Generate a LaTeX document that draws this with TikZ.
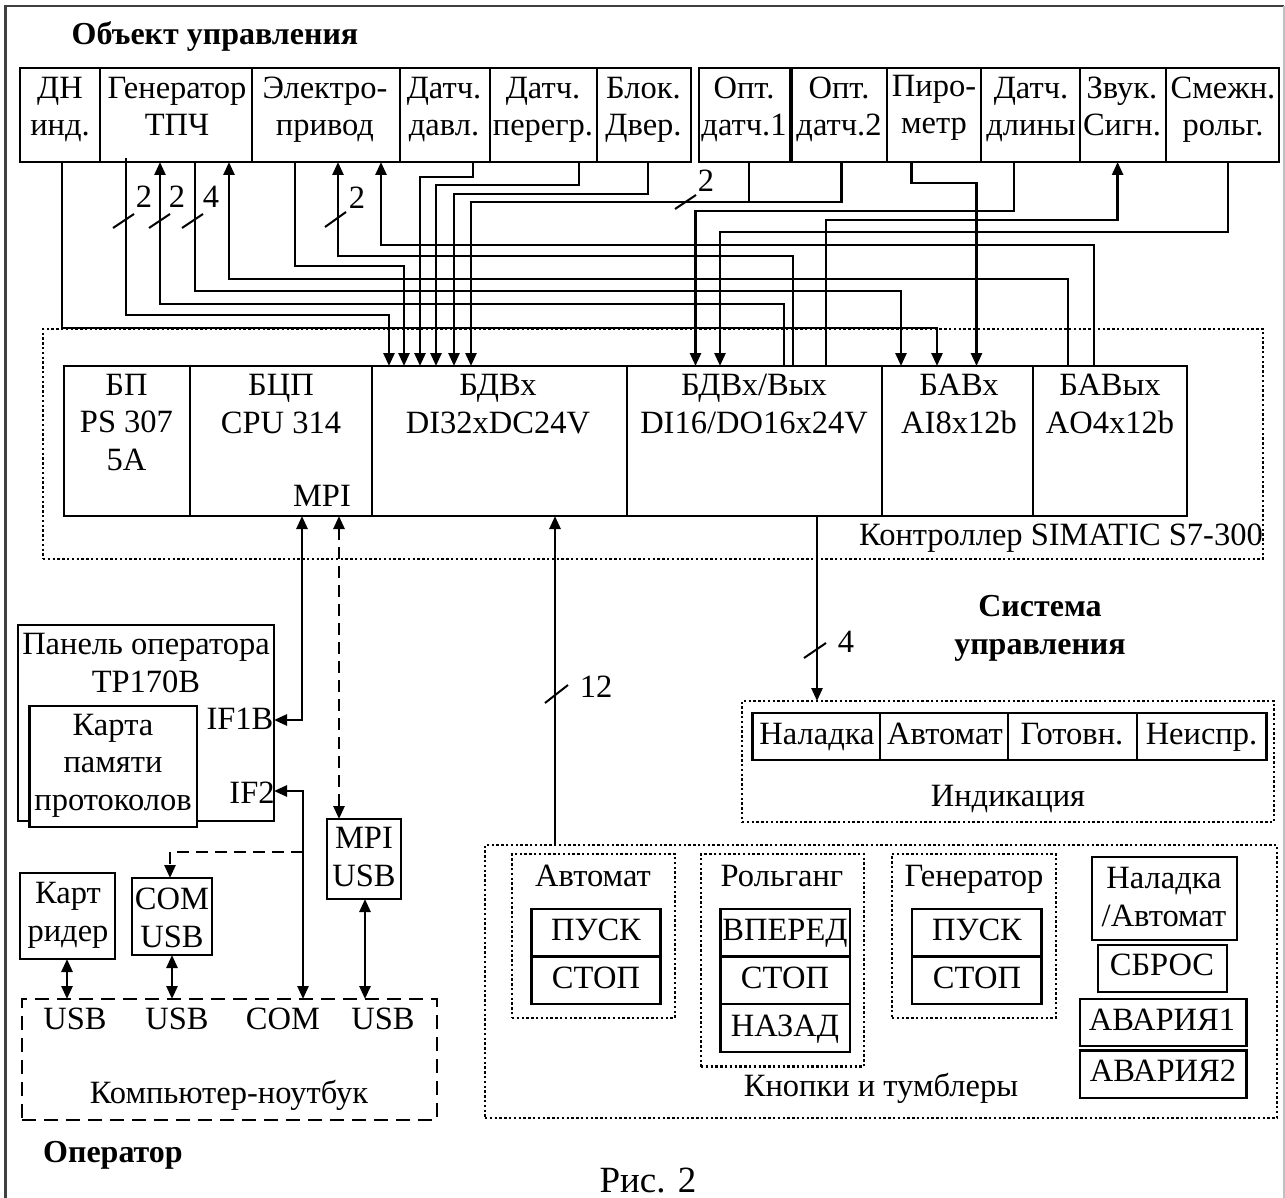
\documentclass[tikz,border=0pt]{standalone}
\usepackage{fontspec}
\setmainfont{Liberation Serif}
\usetikzlibrary{arrows.meta}
\tikzset{
  x=1pt,y=-1pt,
  box/.style={draw=black,line width=2.6pt,fill=white,inner sep=0pt,outer sep=0pt},
  dotbox/.style={draw=black,line width=2.4pt,dash pattern=on 2.4pt off 2.4pt,inner sep=0pt,outer sep=0pt},
  dashbox/.style={draw=black,line width=2.6pt,dash pattern=on 14pt off 8pt,inner sep=0pt,outer sep=0pt},
  lbl/.style={inner sep=0pt,outer sep=0pt,align=center,anchor=base,font=\fontsize{32.5}{37.5}\selectfont},
  ttl/.style={inner sep=0pt,outer sep=0pt,align=center,anchor=base,font=\fontsize{32}{38}\selectfont\bfseries},
  wire/.style={line width=2.6pt,draw=black},
  arr/.style={wire,-{Triangle[length=13pt,width=11pt]}},
  barr/.style={wire,{Triangle[length=13pt,width=11pt]}-{Triangle[length=13pt,width=11pt]}},
  darr/.style={barr,dash pattern=on 12pt off 7pt},
  dwire/.style={wire,dash pattern=on 12pt off 7pt},
  tick/.style={line width=2pt,draw=black},
}
\newcommand{\bx}[6][box]{\node[#1,minimum width={(#5-#3)*1pt},minimum height={(#6-#4)*1pt}] (#2) at ({(#3+#5)/2},{(#4+#6)/2}) {};}
\newcommand{\tx}[4]{\node[lbl] (#1) at (#2,#3) {#4};}
\begin{document}
\begin{tikzpicture}
\useasboundingbox (0,0) rectangle (1285,1198);
\fill[white] (0,0) rectangle (1285,1198);
% outer frame
\draw[line width=2.6pt,draw=black!75] (5.5,1200) -- (5.5,6) -- (1284,6);
\draw[line width=1.5pt,draw=black!25] (1284,6) -- (1284,1200);
% titles
\node[ttl] (t1) at (215,45) {Объект управления};
\node[ttl] (t2) at (1040,654) {Система\\управления};
\node[ttl] (t3) at (113,1162) {Оператор};
\node[font=\fontsize{37}{40}\selectfont,inner sep=0pt,anchor=base] (fig) at (648,1192) {Рис. 2};
% top row
\bx{dn}{20}{68}{100}{162}
\bx{gen}{100}{68}{252}{162}
\bx{ep}{252}{68}{400}{162}
\bx{dd}{400}{68}{490}{162}
\bx{dp}{490}{68}{597}{162}
\bx{bd}{597}{68}{691}{162}
\bx{o1}{699}{68}{790}{162}
\bx{o2}{792}{68}{887}{162}
\bx{pir}{887}{68}{981}{162}
\bx{dl}{981}{68}{1080}{162}
\bx{zv}{1080}{68}{1166}{162}
\bx{sm}{1166}{68}{1279}{162}
\tx{dnt}{60}{136}{ДН\\инд.}
\tx{gent}{177}{136}{Генератор\\ТПЧ}
\tx{ept}{325}{136}{Электро-\\привод}
\tx{ddt}{444}{136}{Датч.\\давл.}
\tx{dpt}{543}{136}{Датч.\\перегр.}
\tx{bdt}{643.5}{136}{Блок.\\Двер.}
\tx{o1t}{744}{136}{Опт.\\датч.1}
\tx{o2t}{839}{136}{Опт.\\датч.2}
\tx{pirt}{934}{134}{Пиро-\\метр}
\tx{dlt}{1031}{136}{Датч.\\длины}
\tx{zvt}{1122}{136}{Звук.\\Сигн.}
\tx{smt}{1223}{136}{Смежн.\\рольг.}
% controller
\bx[dotbox]{ctl}{43}{329}{1263}{559}
\bx{bp}{64}{366}{190}{516}
\bx{cpu}{190}{366}{372}{516}
\bx{di}{372}{366}{627}{516}
\bx{dio}{627}{366}{882}{516}
\bx{ai}{882}{366}{1033}{516}
\bx{ao}{1033}{366}{1187}{516}
\tx{bpt}{126.5}{470}{БП\\PS 307\\5A}
\tx{cput}{281}{433}{БЦП\\CPU 314}
\tx{mpit}{322}{506}{MPI}
\tx{dit}{498}{433}{БДВх\\DI32xDC24V}
\tx{diot}{754}{433}{БДВх/Вых\\DI16/DO16x24V}
\tx{ait}{959}{433}{БАВх\\AI8x12b}
\tx{aot}{1110}{433}{БАВых\\AO4x12b}
\tx{ctlt}{1061}{545}{Контроллер SIMATIC S7-300}
% wires top
\coordinate (gs) at (126,158);
\draw[arr] (dn.south -| 62,0) |- (937,328) -- (ai.north -| 937,0);
\draw[arr] (gs) |- (389,315) -- (di.north -| 389,0);
\draw[arr] (cpu.north -| 784,0) -- (784,304) -| (gen.south -| 160,0);
\draw[arr] (gen.south -| 195,0) |- (901,291) -- (ai.north -| 901,0);
\draw[arr] (ao.north -| 1068,0) -- (1068,279) -| (gen.south -| 229,0);
\draw[arr] (ep.south -| 295,0) |- (404,266) -- (di.north -| 404,0);
\draw[arr] (dio.north -| 793,0) -- (793,256) -| (ep.south -| 338,0);
\draw[arr] (ao.north -| 1094,0) -- (1094,245) -| (ep.south -| 381,0);
\draw[arr] (dd.south -| 473,0) |- (420,177) -- (di.north -| 420,0);
\draw[arr] (dp.south -| 579,0) |- (436,185) -- (di.north -| 436,0);
\draw[arr] (bd.south -| 648,0) |- (454,194) -- (di.north -| 454,0);
\draw[arr] (o2.south -| 841.6,0) |- (471,202) -- (di.north -| 471,0);
\draw[wire] (o1.south -| 749,0) -- (749,202);
\draw[arr] (pir.south -| 911.5,0) |- (976.5,183) -- (ai.north -| 976.5,0);
\draw[arr] (dl.south -| 1014,0) |- (695.5,211) -- (dio.north -| 695.5,0);
\draw[arr] (dio.north -| 826,0) -- (826,220) -| (zv.south -| 1117.6,0);
\draw[arr] (sm.south -| 1228,0) |- (720,232) -- (dio.north -| 720,0);
% ticks
\draw[tick] (113,228) -- (134,214);
\draw[tick] (149,228) -- (170,214);
\draw[tick] (182,228) -- (203,214);
\draw[tick] (325,227) -- (346,212);
\draw[tick] (675,209) -- (696,195);
\tx{n1}{144}{208}{2}
\tx{n2}{177}{208}{2}
\tx{n3}{211}{208}{4}
\tx{n4}{357}{209}{2}
\tx{n5}{706}{192}{2}
% panel
\bx{pan}{18}{625}{274}{821}
\bx{card}{29.5}{706}{197}{827}
\tx{pant}{146}{692}{Панель оператора\\TP170B}
\tx{cardt}{113}{810}{Карта\\памяти\\протоколов}
\tx{if1}{240}{729}{IF1B}
\tx{if2}{252}{803}{IF2}
\bx{mpiu}{327}{819}{401}{899}
\tx{mpiut}{364}{886}{MPI\\USB}
\bx{comu}{132}{878}{212}{955}
\tx{comut}{172}{947}{COM\\USB}
\bx{cr}{20}{873}{115}{959}
\tx{crt}{68}{941}{Карт\\ридер}
\bx[dashbox]{nb}{22}{999}{437}{1120}
\tx{u1}{75}{1029.5}{USB}
\tx{u2}{177}{1029.5}{USB}
\tx{u3}{283}{1029.5}{COM}
\tx{u4}{383}{1029.5}{USB}
\tx{nbt}{229}{1103}{Компьютер-ноутбук}
\draw[barr] (cpu.south -| 302,0) |- (pan.east |- 0,720);
\draw[darr] (cpu.south -| 339,0) -- (mpiu.north -| 339,0);
\draw[barr] (pan.east |- 0,791) -| (nb.north -| 303,0);
\draw[dwire,-{Triangle[length=13pt,width=11pt]}] (303,852) -| (comu.north -| 170,0);
\draw[barr] (cr.south -| 67,0) -- (nb.north -| 67,0);
\draw[barr] (comu.south -| 172,0) -- (nb.north -| 172,0);
\draw[barr] (mpiu.south -| 365,0) -- (nb.north -| 365,0);
% indication
\bx[dotbox]{ind}{742}{701}{1274}{822}
\bx{i1}{752.5}{713}{880}{760}
\bx{i2}{880}{713}{1008}{760}
\bx{i3}{1008}{713}{1137}{760}
\bx{i4}{1137}{713}{1266.5}{760}
\tx{i1t}{817}{744}{Наладка}
\tx{i2t}{945}{744}{Автомат}
\tx{i3t}{1072}{744}{Готовн.}
\tx{i4t}{1201.5}{744}{Неиспр.}
\tx{indt}{1008}{806.5}{Индикация}
\draw[arr] (dio.south -| 817,0) -- (ind.north -| 817,0);
\draw[tick] (804,658) -- (826,643);
\tx{n6}{846}{652}{4}
% buttons
\bx[dotbox]{btn}{485}{845}{1277}{1118}
\draw[arr] (btn.north -| 555,0) -- (di.south -| 555,0);
\draw[tick] (545,703) -- (568,685);
\tx{n7}{596}{697}{12}
\bx[dotbox]{ga}{512}{854}{675}{1018}
\bx[dotbox]{gr}{701}{854}{864}{1066.5}
\bx[dotbox]{gg}{892}{854}{1056}{1018}
\tx{gat}{593}{886}{Автомат}
\tx{grt}{782}{886}{Рольганг}
\tx{ggt}{974}{886}{Генератор}
\bx{a1}{531.5}{909}{660.5}{956.5}
\bx{a2}{531.5}{956.5}{660.5}{1004}
\tx{a1t}{596}{940}{ПУСК}
\tx{a2t}{596}{988}{СТОП}
\bx{r1}{720.5}{909}{850}{956.5}
\bx{r2}{720.5}{956.5}{850}{1004}
\bx{r3}{720.5}{1004}{850}{1052}
\tx{r1t}{785}{940}{ВПЕРЕД}
\tx{r2t}{785}{988}{СТОП}
\tx{r3t}{785}{1036.5}{НАЗАД}
\bx{g1}{912}{909}{1041.5}{956.5}
\bx{g2}{912}{956.5}{1041.5}{1004}
\tx{g1t}{977}{940}{ПУСК}
\tx{g2t}{977}{988}{СТОП}
\bx{na}{1092}{857}{1237}{940}
\tx{nat}{1164}{926}{Наладка\\/Автомат}
\bx{sb}{1098}{945}{1227}{992}
\tx{sbt}{1162}{975}{СБРОС}
\bx{av1}{1080}{999}{1246.5}{1046}
\bx{av2}{1080}{1050.5}{1246.5}{1098}
\tx{av1t}{1162}{1030}{АВАРИЯ1}
\tx{av2t}{1163}{1081.5}{АВАРИЯ2}
\tx{btnt}{881}{1096.5}{Кнопки и тумблеры}
\end{tikzpicture}
\end{document}
